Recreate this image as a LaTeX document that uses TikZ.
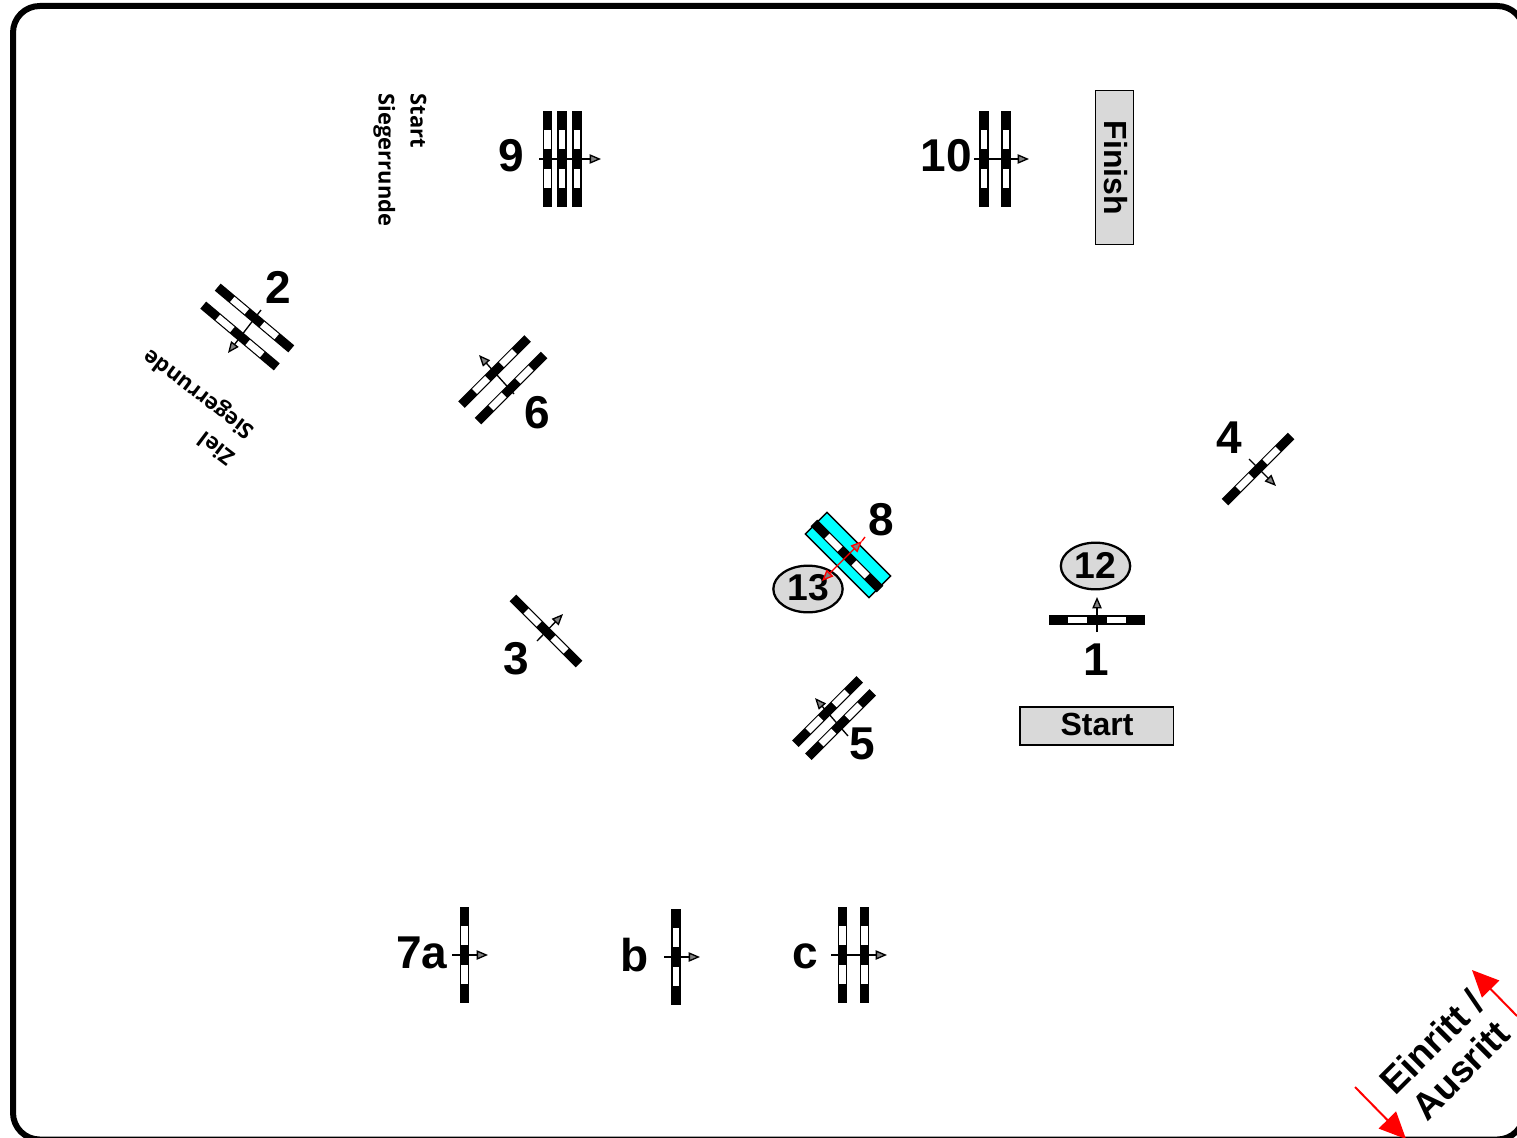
\documentclass[tikz,border=0pt]{standalone}
\usepackage{fontspec}
\setmainfont{Liberation Sans}
\newfontfamily\labelfont{Open Sans}
\usetikzlibrary{arrows.meta,shapes.geometric}
\definecolor{plate}{RGB}{0,255,255}
\tikzset{
  x=0.75pt,y=-0.75pt,
  gatebar/.pic={
    \fill[black] (-48,-4.6) rectangle (48,4.6);
    \fill[white] (-29,-3.4) rectangle (-10,3.4);
    \fill[white] (10,-3.4) rectangle (29,3.4);
  },
  num/.style={font=\fontsize{34.5}{34.5}\selectfont\bfseries,inner sep=0pt},
  oval/.style={draw=black,line width=1.7pt,fill=black!15,ellipse,minimum width=52pt,minimum height=35pt,inner sep=0pt},
  ovaltext/.style={inner sep=0pt,font=\fontsize{28}{28}\selectfont\bfseries},
  banner/.style={draw=black,line width=1pt,fill=black!15,inner sep=0pt,minimum width=115pt,minimum height=28.5pt},
  small/.style={font=\labelfont\fontsize{16.4}{24}\selectfont\bfseries,align=left,inner sep=0pt},
  flow/.style={draw=black,line width=1pt,-{Triangle[length=8.5pt,width=7pt,fill=black!50]}},
  redflow/.style={draw=red,line width=1pt,-{Triangle[length=8.5pt,width=7pt,fill=black!50]}},
  entry/.style={draw=red,line width=1.5pt,-{Triangle[length=20pt,width=18pt,fill=red]}},
}
\begin{document}
\begin{tikzpicture}
\useasboundingbox (0,0) rectangle (1517,1138);
\clip (0,0) rectangle (1517,1138);
% frame
\draw[black,line width=4.5pt,rounded corners=20pt] (13,6) rectangle (1524,1139.5);
% cyan plate
\node[draw=black,line width=1pt,fill=plate,minimum width=67.5pt,minimum height=23pt,inner sep=0pt,rotate=-45] (plateA) at (848,555) {};
% gates
\pic[rotate=90] at (547.5,159) {gatebar};
\pic[rotate=90] at (562,159) {gatebar};
\pic[rotate=90] at (577,159) {gatebar};
\pic[rotate=90] at (984,159) {gatebar};
\pic[rotate=90] at (1006,159) {gatebar};
\pic[rotate=-40] at (254.5,318) {gatebar};
\pic[rotate=-40] at (240,336) {gatebar};
\pic[rotate=45,xscale=.975] at (494.5,371.5) {gatebar};
\pic[rotate=45,xscale=.975] at (511,388) {gatebar};
\pic[rotate=-45,xscale=.975] at (546,631) {gatebar};
\pic[rotate=45,xscale=.975] at (1258,469) {gatebar};
\pic[rotate=45,xscale=.95] at (827.5,711.5) {gatebar};
\pic[rotate=45,xscale=.95] at (840.5,724.5) {gatebar};
\pic[rotate=-45,xscale=.975] at (847,556) {gatebar};
\pic at (1097,620) {gatebar};
\pic[rotate=90] at (464.5,955) {gatebar};
\pic[rotate=90] at (676,957) {gatebar};
\pic[rotate=90] at (842.5,955) {gatebar};
\pic[rotate=90] at (864.5,955) {gatebar};
% ovals and boxes
\node[oval] (o13) at (808,589) {};
\node[ovaltext] (t13) at (808.5,587.5) {13};
\node[oval] (o12) at (1095.5,566) {};
\node[ovaltext] (t12) at (1095.5,565) {12};
\node[banner] (startbox) at (1096.5,726) {};
\node[inner sep=0pt,font=\fontsize{24}{24}\selectfont\bfseries] (starttext) at (1097,724) {Start};
\node[banner,rotate=-90] (finishbox) at (1114.5,167.5) {};
\node[inner sep=0pt,font=\fontsize{24}{24}\selectfont\bfseries,rotate=-90] (finishtext) at (1116,168) {Finish};
% coordinates
\coordinate (a9s) at (539,159); \coordinate (a9e) at (601,159);
\coordinate (a10s) at (974,159); \coordinate (a10e) at (1029,159);
\coordinate (a2s) at (261,310); \coordinate (a2e) at (228,353);
\coordinate (a6s) at (514,394); \coordinate (a6e) at (479,355);
\coordinate (a3s) at (537,641); \coordinate (a3e) at (563,614);
\coordinate (a4s) at (1249,459); \coordinate (a4e) at (1276,486);
\coordinate (a5s) at (848,736); \coordinate (a5e) at (815,698);
\coordinate (a1s) at (1097,632); \coordinate (a1e) at (1097,597);
\coordinate (a7s) at (452,955); \coordinate (a7e) at (488,955);
\coordinate (abs) at (664,957); \coordinate (abe) at (700,957);
\coordinate (acs) at (831,955); \coordinate (ace) at (887,955);
\coordinate (a8m) at (847,556); \coordinate (a8a) at (862,541); \coordinate (a8b) at (822,581);
\coordinate (a8t) at (865,537);
\coordinate (ea1) at (1355,1087); \coordinate (ea2) at (1406,1139);
\coordinate (eb1) at (1517,1016); \coordinate (eb2) at (1472,970);
% arrows
\draw[flow] (a9s) -- (a9e);
\draw[flow] (a10s) -- (a10e);
\draw[flow] (a2s) -- (a2e);
\draw[flow] (a6s) -- (a6e);
\draw[flow] (a3s) -- (a3e);
\draw[flow] (a4s) -- (a4e);
\draw[flow] (a5s) -- (a5e);
\draw[flow] (a1s) -- (a1e);
\draw[flow] (a7s) -- (a7e);
\draw[flow] (abs) -- (abe);
\draw[flow] (acs) -- (ace);
\draw[draw=red,line width=1pt] (a8a) -- (a8t);
\draw[redflow] (a8m) -- (a8a);
\draw[redflow] (a8m) -- (a8b);
\draw[entry] (ea1) -- (ea2);
\draw[entry] (eb1) -- (eb2);
% numbers
\node[num] (n9) at (511.5,156) {9};
\node[num] (n10) at (946,156) {10};
\node[num] (n2) at (278,287.5) {2};
\node[num] (n6) at (537.5,412.5) {6};
\node[num] (n3) at (516.5,658.5) {3};
\node[num] (n4) at (1229,437.5) {4};
\node[num] (n5) at (862,744) {5};
\node[num] (n8) at (881,519.5) {8};
\node[num] (n1) at (1096.5,659.5) {1};
\node[num] (n7a) at (422,953) {7a};
\node[num] (nb) at (634.5,955) {b};
\node[num] (nc) at (805,956) {c};
% small labels
\node[small,rotate=-90] (l1) at (400,160) {Start\\Siegerrunde};
\node[small,rotate=143] (l2) at (190,406) {Ziel\\Siegerrunde};
\node[font=\fontsize{28}{30}\selectfont\bfseries,align=center,inner sep=0pt,rotate=45] (l3) at (1446,1056) {Einritt /\\Ausritt};
\end{tikzpicture}
\end{document}
